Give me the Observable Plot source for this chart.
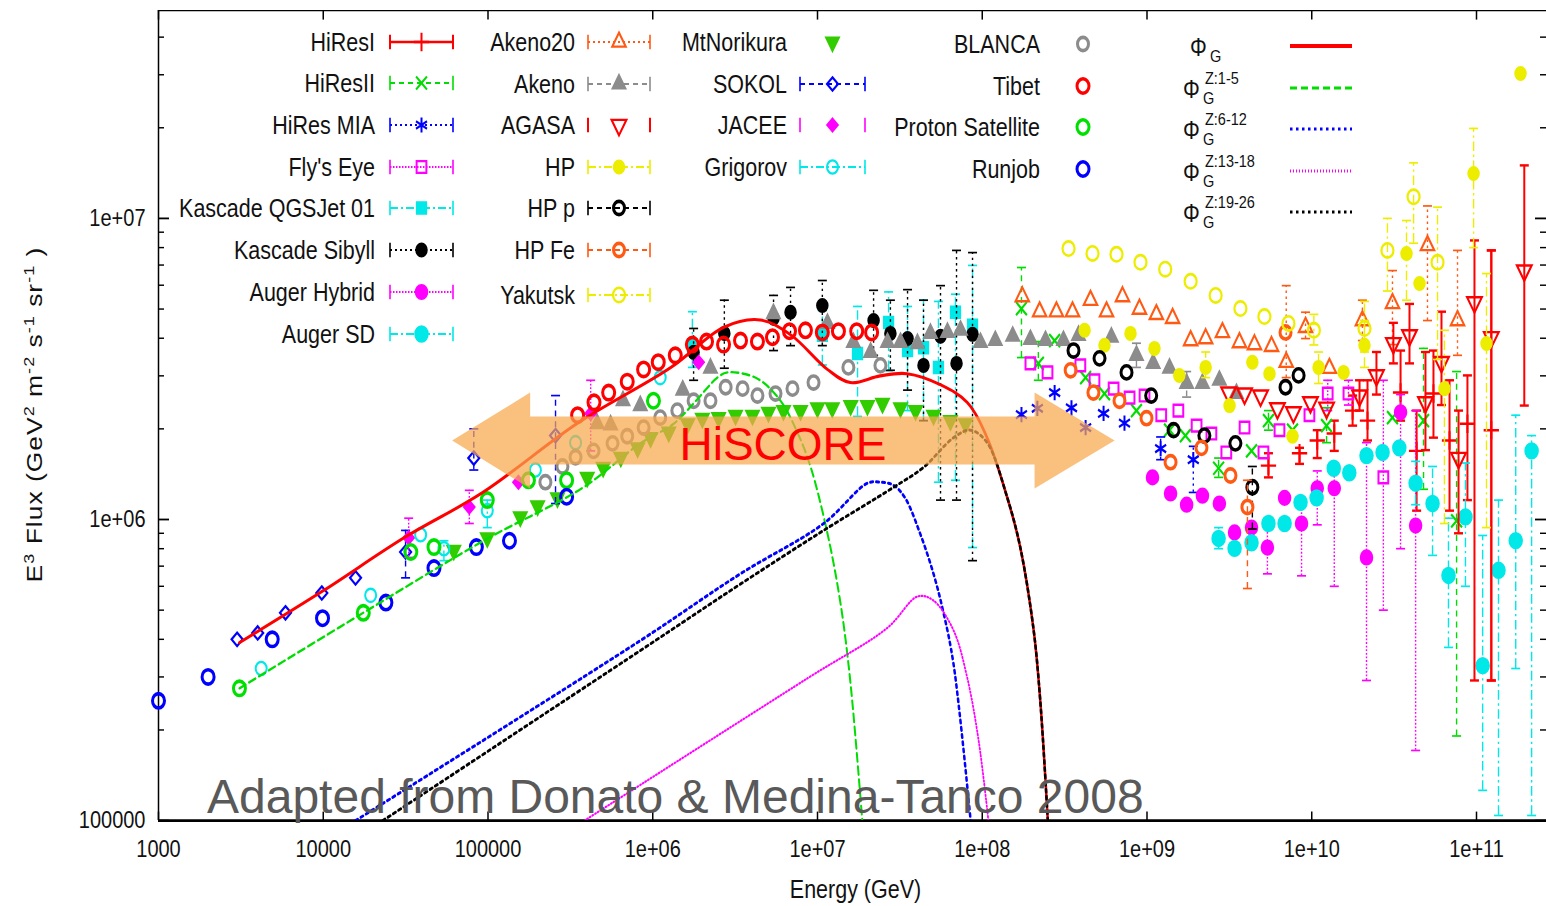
<!DOCTYPE html>
<html>
<head>
<meta charset="utf-8">
<script src="https://cdn.jsdelivr.net/npm/d3@7"></script>
<script src="https://cdn.jsdelivr.net/npm/@observablehq/plot@0.6"></script>
<style>
  html, body { margin: 0; padding: 0; background: #fff; overflow: hidden; }
  #wrap { position: relative; width: 1546px; height: 906px; overflow: hidden; }
  #chart svg { display: block; transform: scale(1, 1.2); transform-origin: 0 0; }
  #notes { position: absolute; left: 0; top: 0; pointer-events: none; }
</style>
</head>
<body>
<div id="wrap"><div id="chart"></div><svg id="notes" width="1546" height="906"></svg></div>
<script>
// ---------- axes ----------
const xTicks = [1e3, 1e4, 1e5, 1e6, 1e7, 1e8, 1e9, 1e10, 1e11];
const xTickLabels = ["1000", "10000", "100000", "1e+06", "1e+07", "1e+08", "1e+09", "1e+10", "1e+11"];
const yTicks = [1e5, 1e6, 1e7];
const yTickLabels = ["100000", "1e+06", "1e+07"];
const yMinorTicks = [2e5, 3e5, 4e5, 5e5, 6e5, 7e5, 8e5, 9e5, 2e6, 3e6, 4e6, 5e6, 6e6, 7e6, 8e6, 9e6, 2e7, 3e7, 4e7];
const xDomain = [1e3, 2.66e11];
const yDomain = [1e5, 4.9e7];
const xLabel = "Energy (GeV)";
// y title pieces: [text, is superscript]
const yLabelParts = [["E", false], ["3", true], [" Flux (GeV", false], ["2", true], [" m", false], ["-2", true],
  [" s", false], ["-1", true], [" sr", false], ["-1", true], [" )", false]];

// ---------- measurements: [energy GeV, E^3 flux, (err low, err high)] ----------
const hiresI = [[5.46e9,1.51e6,1.38e6,1.66e6],[8.43e9,1.66e6,1.53e6,1.73e6],[1.08e10,1.83e6,1.6e6,1.98e6],[1.37e10,1.93e6,1.69e6,2.13e6],[1.77e10,2.3e6,2.05e6,2.58e6],[2.18e10,2.13e6,1.83e6,2.9e6],[3.46e10,2.64e6,2.13e6,3.64e6],[4.33e10,1.69e6,1.07e6,2.3e6],[5.48e10,2.62e6,1.87e6,3.64e6],[6.86e10,1.83e6,1.07e6,2.9e6],[8.81e10,2.08e6,1.16e6,3.01e6],[1.23e11,1.98e6,2.92e5,7.83e6]];
const hiresII = [[1.73e8,5.02e6,3.45e6,6.87e6],[2.19e8,3.3e6,2.9e6,3.9e6],[2.75e8,3.93e6],[4.24e8,2.96e6],[5.52e8,2.62e6],[8.63e8,2.3e6],[1.37e9,1.98e6],[1.71e9,1.9e6],[2.72e9,1.48e6,1.38e6,1.6e6],[4.31e9,1.69e6],[5.46e9,2.13e6,1.98e6,2.3e6],[7.64e9,1.98e6],[1.23e10,2.05e6,1.8e6,2.35e6],[3.09e10,2.18e6],[4.77e10,2.13e6,1.26e6,3.7e6],[7.57e10,9.9e5,1.91e5,3.1e6]];
const hiresMIA = [[1.73e8,2.23e6],[2.16e8,2.34e6],[2.75e8,2.64e6],[3.48e8,2.35e6],[4.24e8,2.02e6],[5.45e8,2.25e6],[7.3e8,2.09e6],[1.21e9,1.72e6,1.58e6,1.88e6],[1.91e9,1.58e6,1.23e6,1.75e6]];
const flysEye = [[1.96e8,3.3e6],[2.49e8,3.08e6],[3.94e8,3.25e6],[4.8e8,2.9e6],[6.27e8,2.72e6],[7.84e8,2.54e6],[9.66e8,2.58e6],[1.22e9,2.22e6],[1.55e9,2.3e6],[2.0e9,2.05e6],[2.46e9,1.93e6],[3.03e9,1.67e6],[3.91e9,2.02e6],[5.09e9,1.67e6],[6.37e9,1.98e6],[9.68e9,2.22e6],[1.25e10,2.62e6,2.3e6,2.9e6],[1.67e10,2.62e6,2.4e6,2.9e6],[2.72e10,1.38e6,5.0e5,2.9e6]];
const kascadeQGS = [[1.74e6,3.79e6,3.2e6,4.9e6],[1.07e7,4.09e6,3.26e6,4.94e6],[1.75e7,3.56e6,2.2e6,5.1e6],[2.7e7,4.51e6,3.12e6,5.7e6],[3.52e7,3.64e6,2.3e6,5.1e6],[4.4e7,3.72e6,2.13e6,5.35e6],[5.42e7,3.2e6,1.33e6,5.3e6],[6.88e7,4.88e6,1.35e6,5.6e6],[8.73e7,4.42e6,8.07e5,6.98e6]];
const kascadeSibyll = [[1.77e6,3.59e6,2.9e6,4.31e6],[2.72e6,4.15e6,3.18e6,5.35e6],[5.41e6,4.66e6,3.64e6,5.55e6],[6.86e6,4.88e6,3.78e6,5.9e6],[1.07e7,5.14e6,3.78e6,6.22e6],[2.19e7,4.58e6,3.51e6,5.77e6],[2.77e7,4.15e6,3.13e6,5.35e6],[3.52e7,3.99e6,2.69e6,5.8e6],[4.4e7,3.25e6,2.13e6,5.35e6],[5.58e7,4.06e6,1.16e6,5.98e6],[6.98e7,3.3e6,1.16e6,7.83e6],[8.73e7,4.12e6,7.3e5,7.7e6]];
const augerHybrid = [[1.08e9,1.38e6],[1.39e9,1.22e6],[1.74e9,1.12e6],[2.17e9,1.2e6],[2.75e9,1.13e6],[3.4e9,9.06e5],[4.31e9,9.4e5],[5.38e9,8.07e5,6.6e5,9.4e5],[6.84e9,1.18e6],[8.67e9,9.7e5,6.5e5,1.1e6],[1.08e10,1.27e6,9.6e5,1.45e6],[1.37e10,1.27e6,6.0e5,1.45e6],[2.15e10,7.48e5,2.92e5,1.8e6],[3.46e10,2.27e6,8.0e5,2.6e6],[4.27e10,9.55e5,1.71e5,2.3e6]];
const augerSD = [[2.72e9,8.65e5,8.0e5,9.4e5],[3.4e9,8.02e5],[4.31e9,8.37e5],[5.46e9,9.7e5],[6.84e9,9.7e5],[8.55e9,1.14e6],[1.07e10,1.18e6],[1.36e10,1.48e6],[1.69e10,1.43e6],[2.15e10,1.63e6],[2.69e10,1.67e6],[3.4e10,1.73e6],[4.27e10,1.32e6,1.12e6,1.56e6],[5.41e10,1.13e6,7.6e5,1.5e6],[6.76e10,6.52e5,3.76e5,1.01e6],[8.57e10,1.02e6,6.0e5,1.54e6],[1.09e11,3.27e5,1.26e5,8.85e5],[1.36e11,6.78e5,1.04e5,1.16e6],[1.73e11,8.51e5,3.2e5,2.22e6],[2.16e11,1.69e6,1.04e5,1.9e6]];
const akeno20 = [[1.75e8,5.5e6],[2.23e8,4.9e6],[2.82e8,4.9e6],[3.53e8,4.9e6],[4.54e8,5.35e6],[5.68e8,4.9e6],[7.1e8,5.5e6],[9.0e8,5.0e6],[1.14e9,4.8e6],[1.43e9,4.66e6],[1.84e9,3.93e6],[2.27e9,3.99e6],[2.87e9,4.18e6],[3.64e9,3.87e6],[4.49e9,3.81e6],[5.7e9,3.76e6],[7.0e9,3.33e6,2.96e6,5.98e6],[9.17e9,4.35e6,3.99e6,4.88e6],[1.28e10,3.18e6],[2.03e10,4.58e6,3.93e6,5.35e6],[3.09e10,5.22e6,3.81e6,6.71e6],[5.04e10,8.13e6,4.58e6,1.1e7],[7.67e10,4.58e6,3.51e6,7.83e6]];
const akeno = [[4.6e5,2.08e6],[5.55e5,2.06e6],[6.6e5,2.48e6],[8.4e5,2.39e6],[1.52e6,2.69e6],[2.24e6,3.18e6],[5.4e6,4.83e6],[1.15e7,4.48e6],[1.65e7,3.87e6],[2.1e7,3.59e6],[2.66e7,3.87e6],[3.19e7,3.87e6],[4.04e7,3.84e6],[4.85e7,4.15e6],[6.15e7,4.18e6],[7.38e7,4.25e6],[9.75e7,3.87e6],[1.2e8,3.93e6],[1.53e8,4.06e6],[1.96e8,3.96e6],[2.42e8,3.93e6],[3.11e8,3.93e6],[3.84e8,4.09e6],[6.08e8,4.03e6],[8.63e8,3.51e6,3.2e6,3.85e6],[1.09e9,3.3e6],[1.37e9,3.18e6],[1.74e9,2.83e6,2.55e6,3.1e6],[2.17e9,2.83e6],[2.75e9,2.9e6],[3.49e9,2.62e6]];
const agasa = [[3.13e9,2.64e6],[3.91e9,2.62e6],[4.89e9,2.58e6],[6.19e9,2.34e6],[7.74e9,2.27e6],[9.82e9,2.45e6],[1.23e10,2.35e6],[1.95e10,2.58e6,2.3e6,2.9e6],[2.47e10,3.01e6,2.6e6,3.6e6],[3.13e10,3.85e6,3.3e6,4.5e6],[3.92e10,4.09e6,3.3e6,5.2e6],[4.9e10,2.45e6,1.7e6,3.6e6],[6.13e10,3.33e6,2.4e6,4.9e6],[7.78e10,1.6e6,9.0e5,2.3e6],[9.72e10,5.26e6,2.92e5,8.45e6],[1.23e11,4.03e6,2.92e5,7.83e6],[1.95e11,6.71e6,2.39e6,1.5e7]];
const hp = [[4.18e8,4.25e6],[5.52e8,3.79e6],[7.94e8,4.15e6],[1.11e9,3.7e6],[1.57e9,3.01e6],[2.27e9,3.2e6,2.96e6,3.6e6],[3.17e9,2.39e6],[4.36e9,3.33e6],[5.54e9,3.05e6],[7.64e9,1.89e6],[1.1e10,3.2e6,2.83e6,3.6e6],[1.56e10,3.08e6],[2.09e10,3.79e6,3.2e6,4.58e6],[3.76e10,7.65e6,5.35e6,9.84e6],[4.51e10,6.08e6],[6.39e10,2.72e6,9.7e5,4.25e6],[9.6e10,1.41e7,8.0e6,1.99e7],[1.15e11,3.84e6,9.4e5,6.56e6],[1.85e11,3.03e7]];
const hpP = [[3.58e8,3.64e6],[5.15e8,3.43e6],[7.51e8,3.08e6],[1.06e9,2.58e6],[1.45e9,1.98e6],[2.23e9,1.9e6],[3.44e9,1.79e6],[4.36e9,1.28e6,9.3e5,1.5e6],[6.93e9,2.75e6],[8.32e9,3.01e6]];
const hpFe = [[3.44e8,3.13e6],[4.73e8,2.64e6],[6.81e8,2.48e6],[9.93e8,2.17e6],[1.39e9,1.55e6],[2.14e9,1.73e6],[3.21e9,1.4e6],[4.07e9,1.1e6,5.9e5,1.35e6],[6.93e9,4.18e6]];
const yakutsk = [[3.34e8,7.94e6],[4.67e8,7.65e6],[6.53e8,7.6e6],[9.13e8,7.15e6],[1.29e9,6.78e6],[1.84e9,6.18e6],[2.61e9,5.55e6],[3.69e9,5.02e6],[5.16e9,4.72e6],[7.22e9,4.48e6],[1.03e10,4.25e6,3.8e6,4.8e6],[2.09e10,4.31e6,3.6e6,5.3e6],[2.88e10,7.83e6,5.74e6,1.0e7],[4.15e10,1.18e7,8.27e6,1.53e7],[5.8e10,7.15e6,3.4e6,1.09e7]];
const mtNorikura = [[6.2e4,7.9e5],[9.9e4,8.7e5],[1.57e5,1.02e6],[2.0e5,1.11e6],[2.64e5,1.18e6],[4.0e5,1.38e6],[5.0e5,1.49e6],[6.4e5,1.61e6],[8.1e5,1.73e6],[9.7e5,1.87e6],[1.25e6,1.95e6],[1.63e6,2.08e6],[2.0e6,2.17e6],[2.51e6,2.18e6],[3.18e6,2.22e6],[4.03e6,2.22e6],[5.04e6,2.27e6],[6.22e6,2.3e6],[7.89e6,2.3e6],[1.0e7,2.35e6],[1.23e7,2.35e6],[1.59e7,2.39e6],[2.01e7,2.39e6],[2.48e7,2.43e6],[3.19e7,2.35e6],[3.94e7,2.3e6],[5.06e7,2.22e6],[6.41e7,2.13e6],[7.91e7,2.08e6]];
const sokol = [[3.0e3,4.0e5],[4.0e3,4.2e5],[5.9e3,4.9e5],[9.8e3,5.7e5],[1.57e4,6.4e5],[3.16e4,7.8e5,6.4e5,9.2e5],[8.2e4,1.6e6,1.46e6,2.0e6],[2.57e5,1.9e6,1.13e6,2.58e6]];
const jacee = [[3.3e4,8.7e5,7.48e5,1.01e6],[7.7e4,1.1e6,9.7e5,1.25e6],[1.53e5,1.33e6],[4.2e5,2.25e6,1.69e6,2.9e6],[1.9e6,3.33e6]];
const grigorov = [[4.2e3,3.2e5],[1.94e4,5.6e5],[3.9e4,8.9e5],[5.4e4,8.0e5,7.3e5,8.5e5],[9.9e4,1.07e6,9.4e5,1.16e6],[1.94e5,1.46e6],[3.4e5,1.8e6],[1.11e6,2.96e6]];
const blanca = [[2.23e5,1.33e6],[2.83e5,1.5e6],[3.4e5,1.61e6],[4.37e5,1.69e6],[5.7e5,1.79e6],[7.0e5,1.89e6],[8.8e5,2.02e6],[1.11e6,2.18e6],[1.41e6,2.3e6],[1.77e6,2.48e6],[2.24e6,2.48e6],[2.77e6,2.75e6],[3.51e6,2.72e6],[4.32e6,2.58e6],[5.56e6,2.62e6],[7.05e6,2.72e6],[9.46e6,2.85e6],[1.54e7,3.2e6],[2.41e7,3.25e6]];
const tibet = [[3.5e5,2.22e6],[4.4e5,2.45e6],[5.4e5,2.64e6],[7.0e5,2.87e6],[8.8e5,3.15e6],[1.08e6,3.33e6],[1.37e6,3.51e6],[1.74e6,3.81e6],[2.12e6,3.9e6],[2.69e6,3.81e6],[3.41e6,3.93e6],[4.32e6,3.9e6],[5.33e6,4.03e6],[6.76e6,4.22e6],[8.45e6,4.25e6],[1.07e7,4.18e6],[1.34e7,4.22e6],[1.73e7,4.22e6],[2.13e7,4.18e6]];
const protonSat = [[3.1e3,2.75e5],[1.75e4,4.9e5],[3.4e4,7.8e5],[4.7e4,8.1e5],[9.9e4,1.16e6],[1.76e5,1.35e6],[3.0e5,1.35e6],[1.01e6,2.48e6]];
const runjob = [[1.0e3,2.5e5],[2.0e3,3.0e5],[4.9e3,4.0e5],[9.9e3,4.7e5],[2.4e4,5.3e5],[4.7e4,6.9e5],[8.5e4,8.1e5],[1.35e5,8.5e5],[3.0e5,1.19e6]];

// ---------- galactic model: total and charge groups [energy GeV, E^3 flux] ----------
const phiG = [[3.1e3,3.9e5],[1.0e4,5.8e5],[3.1e4,8.7e5],[9.3e4,1.23e6],[3.5e5,2.09e6],[1.29e6,3.2e6],[2.7e6,4.35e6],[4.5e6,4.6e6],[6.9e6,4.1e6],[1.15e7,3.15e6],[1.58e7,2.85e6],[2.4e7,3.0e6],[3.5e7,3.05e6],[5.6e7,2.8e6],[8.1e7,2.45e6],[1.07e8,1.87e6],[1.42e8,1.18e6],[1.7e8,8.1e5],[2.05e8,4.3e5],[2.25e8,2.5e5],[2.5e8,1.0e5]];
const phiZ1to5 = [[3.1e3,2.75e5],[1.75e4,4.9e5],[9.4e4,8.5e5],[3.8e5,1.28e6],[8.4e5,1.79e6],[1.34e6,2.08e6],[1.77e6,2.43e6],[2.47e6,2.96e6],[2.84e6,3.08e6],[4.3e6,2.94e6],[5.96e6,2.48e6],[7.6e6,1.93e6],[9.1e6,1.49e6],[1.15e7,8.98e5],[1.38e7,5.26e5],[1.58e7,2.92e5],[1.87e7,1.0e5]];
const phiZ6to12 = [[1.57e4,1.0e5],[8.4e5,3.96e5],[3.4e6,6.6e5],[1.09e7,9.7e5],[2.01e7,1.32e6],[2.41e7,1.33e6],[2.89e7,1.3e6],[3.4e7,1.18e6],[4.2e7,8.97e5],[5.06e7,6.6e5],[5.82e7,4.9e5],[6.7e7,3.3e5],[8.5e7,1.0e5]];
const phiZ13to18 = [[3.85e5,1.0e5],[8.7e6,2.97e5],[2.66e7,4.37e5],[4.05e7,5.55e5],[5.06e7,5.38e5],[6.7e7,4.28e5],[8.1e7,2.99e5],[9.5e7,1.85e5],[1.09e8,1.0e5]];
const phiZ19to26 = [[2.3e4,1.0e5],[8.4e5,3.67e5],[3.4e6,6.1e5],[1.09e7,9.2e5],[2.9e7,1.28e6],[4.4e7,1.49e6],[6.7e7,1.87e6],[8.5e7,1.98e6],[1.07e8,1.8e6],[1.42e8,1.18e6],[1.7e8,8.1e5],[2.05e8,4.3e5],[2.25e8,2.5e5],[2.5e8,1.0e5]];

// ---------- annotation ----------
const hiscoreSpan = [6.1e4, 6.4e8];
const hiscoreFlux = 1.82e6;
const hiscoreLabel = "HiSCORE";
const creditLabel = "Adapted from Donato & Medina-Tanco 2008";

// ---------- drawing setup ----------
const FONT = '"Liberation Sans", Arial, Helvetica, sans-serif';
const STRETCH = 1.2;                 // the drawing is rendered 1.2x taller than its own units
const W = 1546, H = 906, H0 = H / STRETCH;
const M = {left: 158, right: 0, top: 10 / STRETCH, bottom: H0 - 820 / STRETCH};
const innerW = W - M.left - M.right, innerH = H0 - M.top - M.bottom;

// point shapes
const capSymbol = {draw(ctx, size) { const w = Math.sqrt(size / Math.PI); ctx.moveTo(-w, 0); ctx.lineTo(w, 0); }};
const triDown = {draw(ctx, size) {
  const y = -Math.sqrt(size / (Math.sqrt(3) * 3));
  ctx.moveTo(0, -y * 2); ctx.lineTo(-Math.sqrt(3) * y, y); ctx.lineTo(Math.sqrt(3) * y, y); ctx.closePath();
}};

const RED = "#ff0000", GREEN = "#00dd00", BLUE = "#0000ff", MAG = "#ff00ff", CYAN = "#00e8e8",
      ORANGE = "#ff5a14", GRAY = "#8c8c8c", YELLOW = "#eded00";
const SOLID = null, DASH = "5,4", DOT = "2,3", FINE = "1.5,1.5", DASHDOT = "8,3,2,3";

const series = [
  {name: "HiResI", data: hiresI, color: RED, symbol: d3.symbolPlus, r: 5, sw: 2, dash: SOLID, ew: 2},
  {name: "HiResII", data: hiresII, color: GREEN, symbol: d3.symbolTimes, r: 5, sw: 2, dash: DASH},
  {name: "HiRes MIA", data: hiresMIA, color: BLUE, symbol: d3.symbolAsterisk, r: 6, sw: 2, dash: DOT},
  {name: "Fly's Eye", data: flysEye, color: MAG, symbol: d3.symbolSquare, r: 5.5, sw: 2, dash: FINE},
  {name: "Kascade QGSJet 01", data: kascadeQGS, color: CYAN, symbol: d3.symbolSquare, filled: true, r: 5.5, dash: DASHDOT},
  {name: "Kascade Sibyll", data: kascadeSibyll, color: "#000", symbol: d3.symbolCircle, filled: true, r: 5.5, dash: DOT},
  {name: "Auger Hybrid", data: augerHybrid, color: MAG, symbol: d3.symbolCircle, filled: true, r: 6, dash: FINE},
  {name: "Auger SD", data: augerSD, color: CYAN, symbol: d3.symbolCircle, filled: true, r: 6.5, dash: DASHDOT},
  {name: "Akeno20", data: akeno20, color: ORANGE, symbol: d3.symbolTriangle, r: 5, sw: 2, dash: DOT},
  {name: "Akeno", data: akeno, color: GRAY, symbol: d3.symbolTriangle, filled: true, r: 5, dash: DASH},
  {name: "AGASA", data: agasa, color: RED, symbol: triDown, r: 5.5, sw: 2, dash: SOLID, ew: 2, legendLine: "ends"},
  {name: "HP", data: hp, color: YELLOW, symbol: d3.symbolCircle, filled: true, r: 5.5, dash: DASHDOT},
  {name: "HP p", data: hpP, color: "#000", symbol: d3.symbolCircle, r: 5.5, sw: 3, dash: DASH},
  {name: "HP Fe", data: hpFe, color: ORANGE, symbol: d3.symbolCircle, r: 5.5, sw: 3, dash: DASH},
  {name: "Yakutsk", data: yakutsk, color: YELLOW, symbol: d3.symbolCircle, r: 6, sw: 2.2, dash: DASHDOT},
  {name: "MtNorikura", data: mtNorikura, color: "#33cc00", symbol: triDown, filled: true, r: 5, legendLine: "none"},
  {name: "SOKOL", data: sokol, color: BLUE, symbol: d3.symbolDiamond2, r: 5, sw: 2, dash: DASH},
  {name: "JACEE", data: jacee, color: MAG, symbol: d3.symbolDiamond2, filled: true, r: 5, sw: 1.5, dash: FINE, legendLine: "ends"},
  {name: "Grigorov", data: grigorov, color: CYAN, symbol: d3.symbolCircle, r: 5.5, sw: 2, dash: DASHDOT},
  {name: "BLANCA", data: blanca, color: GRAY, symbol: d3.symbolCircle, r: 5.5, sw: 3},
  {name: "Tibet", data: tibet, color: RED, symbol: d3.symbolCircle, r: 6, sw: 3},
  {name: "Proton Satellite", data: protonSat, color: "#00e000", symbol: d3.symbolCircle, r: 6, sw: 3},
  {name: "Runjob", data: runjob, color: BLUE, symbol: d3.symbolCircle, r: 6, sw: 3}
];
const seriesByName = new Map(series.map(s => [s.name, s]));

const models = [
  {sup: null, data: phiG, color: RED, dash: SOLID, width: 2.6},
  {sup: "Z:1-5", data: phiZ1to5, color: "#00dd00", dash: "7,4", width: 2},
  {sup: "Z:6-12", data: phiZ6to12, color: BLUE, dash: "2.5,3.5", width: 2.5},
  {sup: "Z:13-18", data: phiZ13to18, color: MAG, dash: "1,2", width: 1.8},
  {sup: "Z:19-26", data: phiZ19to26, color: "#000", dash: "2.5,3.5", width: 2.5}
];

// legend layout (page pixels)
const legendCols = [
  {textX: 375, x0: 390, x1: 453, rows: [42, 83, 125, 167, 208, 250, 292, 334],
   names: ["HiResI", "HiResII", "HiRes MIA", "Fly's Eye", "Kascade QGSJet 01", "Kascade Sibyll", "Auger Hybrid", "Auger SD"]},
  {textX: 575, x0: 588, x1: 650, rows: [42, 84, 125, 167, 208, 250, 295],
   names: ["Akeno20", "Akeno", "AGASA", "HP", "HP p", "HP Fe", "Yakutsk"]},
  {textX: 787, x0: 800, x1: 865, rows: [42, 84, 125, 167],
   names: ["MtNorikura", "SOKOL", "JACEE", "Grigorov"]},
  {textX: 1040, x0: 1083, x1: 1083, rows: [44, 86, 127, 169],
   names: ["BLANCA", "Tibet", "Proton Satellite", "Runjob"]}
];
const modelLegend = {phiX: 1183, x0: 1290, x1: 1352, rows: [46, 88, 129, 171, 212]};

const dashOpt = d => (d ? {strokeDasharray: d} : {});

// ---------- marks ----------
const marks = [];

// frame and inward ticks
marks.push(Plot.ruleX([xDomain[0]], {stroke: "#000", strokeWidth: 1.5}));
marks.push(Plot.ruleY([yDomain[0]], {stroke: "#000", strokeWidth: 2.4}));
marks.push(Plot.ruleY([yDomain[1]], {stroke: "#000", strokeWidth: 1.2}));
marks.push(Plot.tickX(xTicks, {x: d => d, insetTop: innerH - 7, stroke: "#000", strokeWidth: 1.5}));
marks.push(Plot.tickX(xTicks, {x: d => d, insetBottom: innerH - 8, stroke: "#000", strokeWidth: 1.5}));
marks.push(Plot.tickY(yTicks, {y: d => d, insetRight: innerW - 11, stroke: "#000", strokeWidth: 1.5}));
marks.push(Plot.tickY(yMinorTicks, {y: d => d, insetRight: innerW - 6, stroke: "#000", strokeWidth: 1.2}));
marks.push(Plot.tickY(yTicks, {y: d => d, insetLeft: innerW - 11, stroke: "#000", strokeWidth: 1.5}));
marks.push(Plot.tickY(yMinorTicks, {y: d => d, insetLeft: innerW - 6, stroke: "#000", strokeWidth: 1.2}));

// measurements with error bars
for (const s of series) {
  const pts = s.data.map(([E, F, lo, hi]) => ({E, F, lo, hi}));
  const errs = pts.filter(p => p.lo != null);
  const ew = s.ew ?? 1.4;
  if (errs.length) {
    marks.push(Plot.ruleX(errs, {x: "E", y1: "lo", y2: "hi", stroke: s.color, strokeWidth: ew, ...dashOpt(s.dash)}));
    for (const k of ["lo", "hi"]) {
      marks.push(Plot.dot(errs, {x: "E", y: k, symbol: capSymbol, r: 4.5, stroke: s.color, fill: "none", strokeWidth: ew}));
    }
  }
  marks.push(Plot.dot(pts, {x: "E", y: "F", symbol: s.symbol, r: s.r,
    stroke: s.color, fill: s.filled ? s.color : "none", strokeWidth: s.sw ?? 1.5}));
}

// model curves
for (const m of models) {
  marks.push(Plot.line(m.data, {x: d => d[0], y: d => d[1], stroke: m.color, strokeWidth: m.width,
    curve: "catmull-rom", clip: true, ...dashOpt(m.dash)}));
}

// HiSCORE band arrow, placed with the plot's scales
marks.push(function hiscoreArrow(index, scales) {
  const x0 = scales.x(hiscoreSpan[0]), x1 = scales.x(hiscoreSpan[1]), yc = scales.y(hiscoreFlux);
  const headL = 78, headR = 80, shaft = 24 / STRETCH, head = 48 / STRETCH;
  const pts = [[x0, yc], [x0 + headL, yc - head], [x0 + headL, yc - shaft], [x1 - headR, yc - shaft],
    [x1 - headR, yc - head], [x1, yc], [x1 - headR, yc + head], [x1 - headR, yc + shaft],
    [x0 + headL, yc + shaft], [x0 + headL, yc + head]];
  const g = d3.create("svg:g");
  g.append("polygon").attr("points", pts.map(p => p.join(",")).join(" "))
    .attr("fill", "#f8a84c").attr("fill-opacity", 0.72);
  return g.node();
});

// key
marks.push(function key() {
  const g = d3.create("svg:g").attr("font-family", FONT);
  const sy = v => v / STRETCH;
  const symbolPath = s => d3.symbol(s.symbol, Math.PI * s.r * s.r)();
  for (const col of legendCols) {
    col.names.forEach((name, i) => {
      const s = seriesByName.get(name);
      const y = sy(col.rows[i]);
      g.append("text").attr("x", col.textX).attr("y", y).attr("dy", "0.36em")
        .attr("text-anchor", "end").attr("font-size", 21.5).attr("fill", "#111").text(name);
      const hasSample = col.x1 > col.x0 && s.legendLine !== "none";
      if (hasSample) {
        if (s.legendLine !== "ends") {
          const ln = g.append("line").attr("x1", col.x0).attr("x2", col.x1).attr("y1", y).attr("y2", y)
            .attr("stroke", s.color).attr("stroke-width", s.ew ?? 1.6);
          if (s.dash) ln.attr("stroke-dasharray", s.dash);
        }
        for (const xe of [col.x0, col.x1]) {
          g.append("line").attr("x1", xe).attr("x2", xe).attr("y1", y - 6).attr("y2", y + 6)
            .attr("stroke", s.color).attr("stroke-width", s.ew ?? 1.6);
        }
      }
      const cx = col.x1 > col.x0 ? (col.x0 + col.x1) / 2 : col.x0;
      g.append("path").attr("transform", `translate(${cx},${y})`).attr("d", symbolPath(s))
        .attr("fill", s.filled ? s.color : "none").attr("stroke", s.color).attr("stroke-width", s.sw ?? 1.5);
    });
  }
  models.forEach((m, i) => {
    const yRow = modelLegend.rows[i];
    const ln = g.append("line").attr("x1", modelLegend.x0).attr("x2", modelLegend.x1)
      .attr("y1", sy(yRow)).attr("y2", sy(yRow)).attr("stroke", m.color).attr("stroke-width", i === 0 ? 3.2 : 2.4);
    if (m.dash) ln.attr("stroke-dasharray", m.dash);
    const px = modelLegend.phiX + (i === 0 ? 7 : 0);
    const lab = g.append("g").attr("text-anchor", "start").attr("fill", "#111");
    lab.append("text").attr("x", px).attr("y", sy(yRow + 10)).attr("font-size", 21).text("Φ");
    lab.append("text").attr("x", px + 20).attr("y", sy(yRow + 16)).attr("font-size", 14.5).text("G");
    if (m.sup) {
      lab.append("text").attr("x", px + 22).attr("y", sy(yRow - 4)).attr("font-size", 14.5).text(m.sup);
    }
  });
  return g.node();
});

// y title with superscripts, centred on the frame
marks.push(function yTitle(index, scales, values, dims) {
  const cy = (dims.marginTop + dims.height - dims.marginBottom) / 2;
  const t = d3.create("svg:text").attr("transform", `translate(42,${cy}) rotate(-90)`)
    .attr("text-anchor", "middle").attr("font-family", FONT).attr("font-size", 22).attr("fill", "#111")
    .attr("textLength", 279).attr("lengthAdjust", "spacing");
  let raised = false;
  for (const [str, sup] of yLabelParts) {
    const ts = t.append("tspan").text(str);
    if (sup && !raised) { ts.attr("dy", -8).attr("font-size", 15); raised = true; }
    else if (sup) { ts.attr("font-size", 15); }
    else if (raised) { ts.attr("dy", 8); raised = false; }
  }
  return t.node();
});

// tick labels and x title
marks.push(Plot.text(xTicks, {x: d => d, frameAnchor: "bottom", dy: 24, text: (d, i) => xTickLabels[i],
  fontSize: 20, lineAnchor: "middle", fill: "#111"}));
marks.push(Plot.text(yTicks, {y: d => d, frameAnchor: "left", dx: -13, textAnchor: "end",
  text: (d, i) => yTickLabels[i], fontSize: 20, fill: "#111"}));
marks.push(Plot.text([xLabel], {frameAnchor: "bottom", dx: 3, dy: 58, text: d => d, fontSize: 21.5,
  textAnchor: "middle", lineAnchor: "middle", fill: "#111"}));

const chart = Plot.plot({
  width: W,
  height: H0,
  marginLeft: M.left, marginRight: M.right, marginTop: M.top, marginBottom: M.bottom,
  x: {type: "log", domain: xDomain, axis: null},
  y: {type: "log", domain: yDomain, axis: null},
  style: {fontFamily: FONT, background: "#fff", overflow: "visible"},
  marks
});
document.getElementById("chart").append(chart);

// overlaid annotation texts
const notes = d3.select("#notes");
notes.append("text").attr("x", 783).attr("y", 460).attr("text-anchor", "middle")
  .attr("font-family", FONT).attr("font-size", 46).attr("fill", "#ff0000").text(hiscoreLabel);
notes.append("text").attr("x", 207).attr("y", 813)
  .attr("font-family", FONT).attr("font-size", 48).attr("fill", "#595959").text(creditLabel);
</script>
</body>
</html>
